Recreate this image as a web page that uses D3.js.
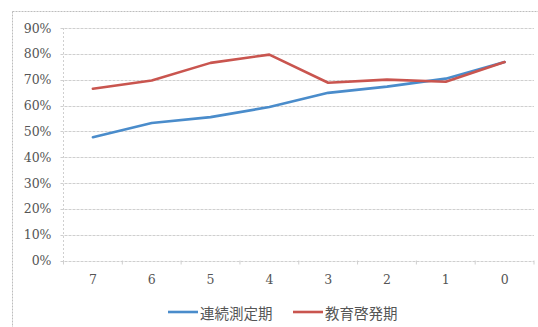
<!DOCTYPE html>
<html>
<head>
<meta charset="utf-8">
<script src="https://cdn.jsdelivr.net/npm/d3@7"></script>
<style>
  html, body { margin: 0; padding: 0; background: #fff; }
  svg { display: block; }
</style>
</head>
<body>
<svg id="chart" width="538" height="327"></svg>
<script>
// Periods counted down to the final term
const categories = ["7", "6", "5", "4", "3", "2", "1", "0"];
// 連続測定期 (continuous measurement period)
const continuousValues = [0.477, 0.532, 0.555, 0.594, 0.649, 0.673, 0.704, 0.768];
// 教育啓発期 (education / awareness period)
const educationValues = [0.665, 0.697, 0.765, 0.797, 0.688, 0.700, 0.692, 0.768];
const yTicks = [0, 0.1, 0.2, 0.3, 0.4, 0.5, 0.6, 0.7, 0.8, 0.9];
const seriesNames = ["連続測定期", "教育啓発期"];
const seriesColors = ["#4a8ccb", "#c9554f"];

const svg = d3.select("#chart");
const W = 538, H = 327;
const plot = { left: 63.5, right: 534, top: 28, bottom: 260.5 };

// Outer chart frame
svg.append("rect")
  .attr("x", 12.5).attr("y", 11.5)
  .attr("width", W).attr("height", H)
  .attr("fill", "none").attr("stroke", "#bdbdbd").attr("stroke-width", 1)
  .attr("stroke-dasharray", "2,1");

const x = d3.scaleBand().domain(categories).range([plot.left, plot.right]);
const y = d3.scaleLinear().domain([0, 0.9]).range([plot.bottom, plot.top]);

// Horizontal gridlines
svg.append("g").selectAll("line").data(yTicks).join("line")
  .attr("x1", plot.left - 3).attr("x2", plot.right)
  .attr("y1", d => Math.round(y(d)) + 0.5).attr("y2", d => Math.round(y(d)) + 0.5)
  .attr("stroke", "#cfcfcf").attr("stroke-width", 1)
  .attr("stroke-dasharray", "3,1");

// Vertical value axis
svg.append("line")
  .attr("x1", plot.left).attr("x2", plot.left)
  .attr("y1", plot.top).attr("y2", plot.bottom + 3)
  .attr("stroke", "#cfcfcf").attr("stroke-dasharray", "2,2");

// Y axis labels
const yAxis = d3.axisLeft(y).tickValues(yTicks).tickFormat(d3.format(".0%")).tickSize(0).tickPadding(12);
const gy = svg.append("g").attr("transform", `translate(${plot.left},0)`).call(yAxis);
gy.select(".domain").remove();
gy.selectAll("text")
  .attr("font-family", "DejaVu Serif, serif")
  .attr("font-size", 12.5)
  .attr("fill", "#555");

// X axis: category boundary ticks and labels
const boundaries = categories.map(c => x(c)).concat([plot.right]);
svg.append("g").selectAll("line").data(boundaries).join("line")
  .attr("x1", d => d).attr("x2", d => d)
  .attr("y1", plot.bottom).attr("y2", plot.bottom + 4)
  .attr("stroke", "#cfcfcf");

const xAxis = d3.axisBottom(x).tickSize(0).tickPadding(15);
const gx = svg.append("g").attr("transform", `translate(0,${plot.bottom})`).call(xAxis);
gx.select(".domain").remove();
gx.selectAll("text")
  .attr("font-family", "DejaVu Serif, serif")
  .attr("font-size", 12.5)
  .attr("fill", "#555");

// Series lines
const line = d3.line()
  .x((d, i) => x(categories[i]) + x.bandwidth() / 2)
  .y(d => y(d));

[continuousValues, educationValues].forEach((vals, i) => {
  svg.append("path")
    .datum(vals)
    .attr("d", line)
    .attr("fill", "none")
    .attr("stroke", seriesColors[i])
    .attr("stroke-width", 2.6)
    .attr("stroke-linejoin", "round")
    .attr("stroke-linecap", "round");
});

// Legend
const legendY = 312;
const legendItems = [{ x: 168 }, { x: 293 }];
legendItems.forEach((item, i) => {
  svg.append("line")
    .attr("x1", item.x).attr("x2", item.x + 30)
    .attr("y1", legendY).attr("y2", legendY)
    .attr("stroke", seriesColors[i]).attr("stroke-width", 2.6);
  svg.append("text")
    .attr("x", item.x + 32).attr("y", legendY)
    .attr("dominant-baseline", "central")
    .attr("font-family", "Noto Sans CJK JP, sans-serif")
    .attr("font-size", 14.5)
    .attr("fill", "#555")
    .text(seriesNames[i]);
});
</script>
</body>
</html>
